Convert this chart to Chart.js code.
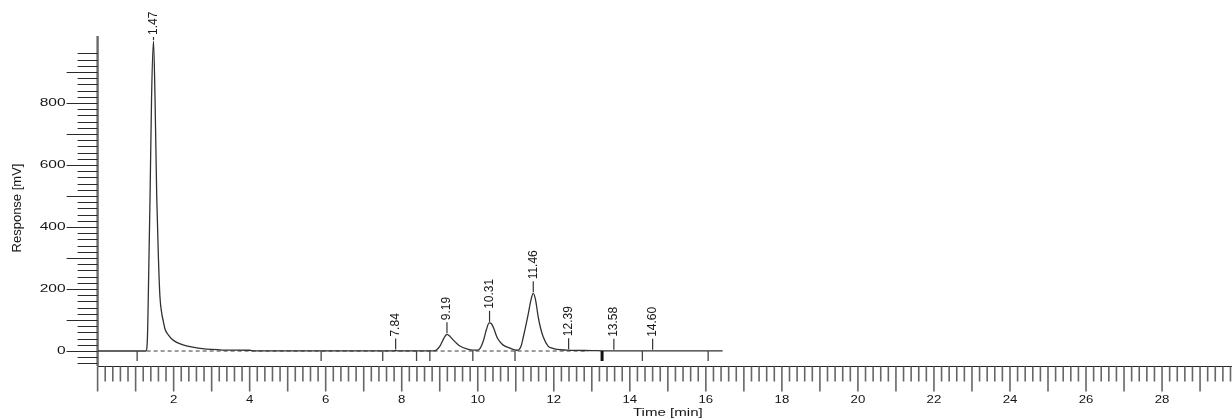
<!DOCTYPE html>
<html>
<head>
<meta charset="utf-8">
<title>Chromatogram</title>
<script src="https://cdn.jsdelivr.net/npm/chart.js@4.4.1/dist/chart.umd.min.js"></script>
<style>
  html, body { margin: 0; padding: 0; background: #ffffff; }
  canvas { display: block; }
</style>
</head>
<body>
<canvas id="chrom" width="1232" height="420"></canvas>
<script>
// Detector trace: retention time [min] and response [mV]
const signalTime = [
  0, 1.27, 1.31, 1.34, 1.38, 1.42, 1.47, 1.51, 1.555, 1.60,
  1.64, 1.69, 1.73, 1.77, 1.86, 1.96, 2.08, 2.25, 2.43, 2.65,
  2.87, 3.20, 3.50, 4.00, 4.10, 7.79, 7.84, 7.89, 8.85, 8.92,
  9.00, 9.08, 9.13, 9.19, 9.27, 9.36, 9.45, 9.53, 9.71, 9.88,
  10.00, 10.07, 10.15, 10.23, 10.30, 10.36, 10.43, 10.50, 10.58, 10.67,
  10.85, 11.02, 11.08, 11.14, 11.20, 11.27, 11.33, 11.40, 11.46, 11.52,
  11.59, 11.65, 11.72, 11.85, 11.96, 12.08, 12.34, 12.60, 13.00, 13.30,
  16.44
];
const signalMv = [
  0, 0, 40, 220, 500, 820, 1000, 820, 500, 300,
  175, 120, 95, 72, 52, 38, 28, 20, 14, 9,
  6, 4, 3, 2.5, 0.5, 0.5, 1.5, 0.5, 0.5, 4,
  15, 34, 46, 54, 47, 35, 24, 16, 7, 3,
  3, 10, 34, 70, 91, 88, 70, 46, 30, 19,
  9, 2.5, 4, 16, 46, 85, 121, 165, 186, 165,
  110, 75, 46, 16, 9, 5, 3, 2, 1.5, 0.5,
  0.5
];

// Integrated peaks: retention time labels and response at the apex
const peakTimes = [1.47, 7.84, 9.19, 10.31, 11.46, 12.39, 13.58, 14.60];
const peakLabels = ['1.47', '7.84', '9.19', '10.31', '11.46', '12.39', '13.58', '14.60'];
const peakApexMv = [1000, 1.5, 54, 91, 186, 2.8, 0.5, 0.5];

// Integration events marked under the baseline
const eventTimes = [1.04, 5.88, 7.50, 8.39, 8.74, 9.87, 10.98, 13.27, 14.33, 16.06];
const eventBold = [false, false, false, false, false, false, false, true, false, false];

// Dashed integration baseline (start / end time)
const baselineSpan = [1.29, 12.9];

// Axis labels
const yTickLabels = [0, 200, 400, 600, 800];
const xTickLabels = [2, 4, 6, 8, 10, 12, 14, 16, 18, 20, 22, 24, 26, 28];

const FONT = '"Liberation Sans", Arial, Helvetica, sans-serif';
const INK = '#161616';

function vline(ctx, x, y0, y1, w, color) {
  ctx.beginPath();
  ctx.lineWidth = w;
  ctx.strokeStyle = color;
  ctx.moveTo(x, y0);
  ctx.lineTo(x, y1);
  ctx.stroke();
}

function hline(ctx, x0, x1, y, w, color) {
  ctx.beginPath();
  ctx.lineWidth = w;
  ctx.strokeStyle = color;
  ctx.moveTo(x0, y);
  ctx.lineTo(x1, y);
  ctx.stroke();
}

// Text with a horizontal stretch factor (wide plotter lettering)
function wideText(ctx, text, x, y, sx, align, size) {
  ctx.save();
  ctx.translate(x, y);
  ctx.scale(sx, 1);
  ctx.font = size + 'px ' + FONT;
  ctx.fillStyle = INK;
  ctx.textAlign = align;
  ctx.textBaseline = 'middle';
  ctx.fillText(text, 0, 0);
  ctx.restore();
}

function upText(ctx, text, x, y, size, align) {
  ctx.save();
  ctx.translate(x, y);
  ctx.rotate(-Math.PI / 2);
  ctx.font = size + 'px ' + FONT;
  ctx.fillStyle = INK;
  ctx.textAlign = align;
  ctx.textBaseline = 'middle';
  ctx.fillText(text, 0, 0);
  ctx.restore();
}

// Chromatography-style axes: outward ticks of several lengths
const chromAxes = {
  id: 'chromAxes',
  beforeDatasetsDraw(chart) {
    const { ctx, chartArea: a, scales: { x, y } } = chart;
    ctx.save();

    // y axis spine
    vline(ctx, a.left, a.top - 2, a.bottom, 2.4, '#6a6a6a');
    // y ticks every 20 mV, longer every 100 mV
    for (let v = -40; v <= 960; v += 20) {
      const py = Math.round(y.getPixelForValue(v)) + 0.5;
      const long = v % 100 === 0;
      hline(ctx, a.left - (long ? 31 : 20), a.left, py, 1, '#2a2a2a');
    }
    yTickLabels.forEach(v => {
      wideText(ctx, String(v), a.left - 32, y.getPixelForValue(v), 1.35, 'right', 11.5);
    });

    // x axis spine
    const by = Math.round(a.bottom) + 0.5;
    hline(ctx, a.left, a.right, by, 1, '#262626');
    // x ticks every 0.2 min, longer every minute
    for (let k = 0; k * 0.2 <= x.max + 1e-9; k++) {
      const px = x.getPixelForValue(k * 0.2);
      const long = k % 5 === 0;
      vline(ctx, px, by, by + (long ? 25 : 15), 1.6, '#666666');
    }
    xTickLabels.forEach(t => {
      wideText(ctx, String(t), x.getPixelForValue(t), 400, 1.2, 'center', 11);
    });

    // axis titles
    wideText(ctx, 'Time [min]', x.getPixelForValue(15), 413, 1.37, 'center', 11);
    upText(ctx, 'Response [mV]', 17.5, 208, 13, 'center');

    ctx.restore();
  },
  afterDatasetsDraw(chart) {
    const { ctx, chartArea: a, scales: { x, y } } = chart;
    ctx.save();

    // event marks hanging below the baseline
    const y0 = y.getPixelForValue(0);
    eventTimes.forEach((t, i) => {
      const bold = eventBold[i];
      vline(ctx, x.getPixelForValue(t), y0, y0 + 10, bold ? 3 : 1.3, bold ? '#111111' : '#444444');
    });

    // peak apex marks with rotated retention-time labels
    peakTimes.forEach((t, i) => {
      const px = x.getPixelForValue(t);
      const base = y.getPixelForValue(peakApexMv[i]) - 1;
      const top = Math.max(base - 11, a.top - 1);
      vline(ctx, px, base, top, 1.2, '#333333');
      upText(ctx, peakLabels[i], px, top - 2, 12, 'left');
    });

    ctx.restore();
  }
};

const signalPoints = signalTime.map((t, i) => ({ x: t, y: signalMv[i] }));
const baselinePoints = baselineSpan.map(t => ({ x: t, y: 0 }));

new Chart(document.getElementById('chrom'), {
  type: 'line',
  data: {
    datasets: [
      {
        label: 'Response',
        data: signalPoints,
        borderColor: '#303030',
        borderWidth: 1.3,
        pointRadius: 0,
        cubicInterpolationMode: 'monotone',
        fill: false
      },
      {
        label: 'Baseline',
        data: baselinePoints,
        borderColor: '#3a3a3a',
        borderWidth: 1,
        borderDash: [4, 3],
        pointRadius: 0,
        fill: false
      }
    ]
  },
  options: {
    responsive: false,
    animation: false,
    devicePixelRatio: 1,
    layout: { padding: { left: 97.6, right: 0, top: 37.9, bottom: 54.1 } },
    plugins: { legend: { display: false }, tooltip: { enabled: false } },
    scales: {
      x: { type: 'linear', min: 0, max: 29.84, display: false },
      y: { type: 'linear', min: -48, max: 1010, display: false }
    }
  },
  plugins: [chromAxes]
});
</script>
</body>
</html>
